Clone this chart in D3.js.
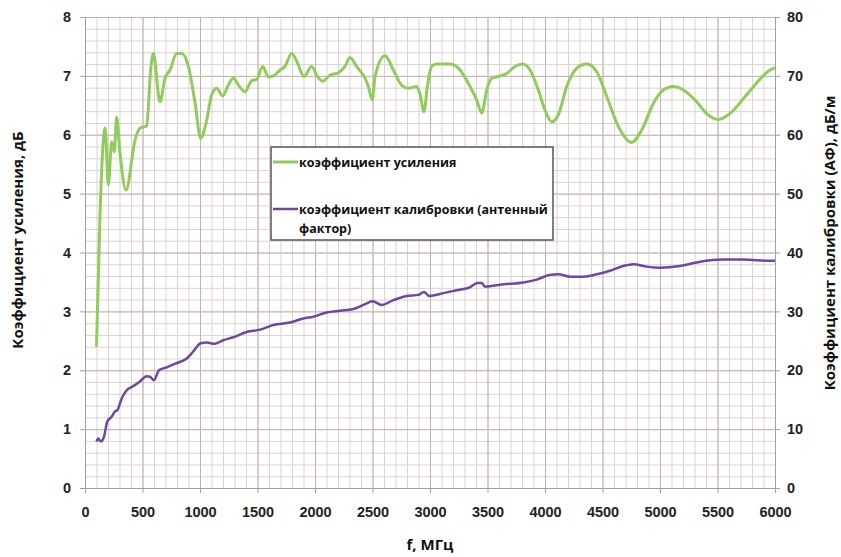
<!DOCTYPE html>
<html>
<head>
<meta charset="utf-8">
<script src="https://cdn.jsdelivr.net/npm/d3@7"></script>
<style>
  body { margin: 0; background: #fff; }
  svg { display: block; font-family: "Open Sans", sans-serif; }
  .tick text { font-size: 14.5px; font-weight: bold; fill: #222; }
</style>
</head>
<body>
<svg width="841" height="557"></svg>
<script>
(function(){

	// gain, dB (left axis)
	var gainFreq = [100, 130, 150, 175, 203, 232, 255, 275, 304, 357, 435, 478, 536, 571, 594, 652, 696, 739, 797, 841, 899, 957, 1006, 1052, 1102, 1145, 1197, 1247, 1290, 1342, 1391, 1450, 1493, 1545, 1594, 1638, 1696, 1739, 1797, 1841, 1904, 1971, 2020, 2067, 2130, 2203, 2261, 2304, 2362, 2435, 2464, 2499, 2522, 2609, 2681, 2754, 2812, 2884, 2913, 2948, 2977, 3015, 3058, 3174, 3261, 3348, 3406, 3450, 3493, 3537, 3594, 3667, 3739, 3806, 3870, 3942, 4000, 4058, 4116, 4189, 4276, 4363, 4450, 4537, 4638, 4754, 4841, 4942, 5029, 5116, 5203, 5319, 5406, 5507, 5609, 5754, 5957, 6000];
	var gain = [2.4, 4.6, 5.6, 6.12, 5.15, 5.88, 5.71, 6.3, 5.69, 5.06, 5.91, 6.11, 6.15, 7.1, 7.38, 6.56, 6.96, 7.1, 7.38, 7.38, 7.16, 6.54, 5.94, 6.19, 6.68, 6.79, 6.66, 6.85, 6.96, 6.82, 6.73, 6.92, 6.94, 7.16, 6.98, 7.0, 7.1, 7.16, 7.38, 7.25, 6.99, 7.16, 6.99, 6.91, 7.01, 7.05, 7.16, 7.31, 7.16, 6.96, 6.82, 6.59, 6.99, 7.34, 7.1, 6.84, 6.79, 6.82, 6.69, 6.39, 6.82, 7.16, 7.2, 7.2, 7.1, 6.82, 6.59, 6.37, 6.76, 6.96, 6.99, 7.04, 7.16, 7.2, 7.1, 6.76, 6.42, 6.22, 6.34, 6.82, 7.13, 7.2, 7.07, 6.65, 6.14, 5.87, 6.08, 6.53, 6.76, 6.82, 6.76, 6.56, 6.36, 6.26, 6.36, 6.68, 7.1, 7.14];

	// antenna factor, dB/m (right axis)
	var afFreq = [100, 116, 136, 165, 194, 232, 261, 281, 319, 362, 420, 478, 536, 565, 600, 643, 710, 797, 884, 942, 1006, 1058, 1130, 1203, 1290, 1406, 1522, 1638, 1783, 1899, 1986, 2102, 2218, 2333, 2420, 2502, 2580, 2681, 2797, 2899, 2948, 2994, 3116, 3232, 3348, 3412, 3450, 3478, 3638, 3812, 3928, 4043, 4116, 4218, 4334, 4450, 4565, 4681, 4768, 4884, 5000, 5174, 5319, 5435, 5551, 5725, 5957, 6000];
	var af = [7.9, 8.4, 7.9, 8.7, 11.3, 12.1, 13.0, 13.2, 15.2, 16.6, 17.3, 18.1, 19.0, 18.9, 18.3, 20.0, 20.5, 21.2, 22.0, 23.2, 24.6, 24.7, 24.5, 25.1, 25.6, 26.5, 26.9, 27.7, 28.1, 28.8, 29.1, 29.8, 30.1, 30.4, 31.1, 31.7, 31.1, 31.9, 32.6, 32.8, 33.3, 32.6, 33.1, 33.6, 34.1, 34.8, 34.8, 34.2, 34.6, 34.9, 35.4, 36.2, 36.3, 35.9, 35.9, 36.3, 36.9, 37.7, 38.0, 37.6, 37.4, 37.7, 38.3, 38.7, 38.8, 38.8, 38.6, 38.6];

	var xTicks = [0, 500, 1000, 1500, 2000, 2500, 3000, 3500, 4000, 4500, 5000, 5500, 6000];
	var leftTicks = [0, 1, 2, 3, 4, 5, 6, 7, 8];
	var rightTicks = [0, 10, 20, 30, 40, 50, 60, 70, 80];

	var seriesNames = ["коэффициент усиления", "коэффициент калибровки (антенный", "фактор)"];

	var svg = d3.select("svg"),
		margin = {top: 17, right: 66, bottom: 69, left: 85},
		width = +svg.attr("width") - margin.left - margin.right,
		height = +svg.attr("height") - margin.top - margin.bottom;

	var g = svg.append("g")
		.attr("transform", "translate(" + margin.left + "," + margin.top + ")");

	var x = d3.scaleLinear().domain([0, 6000]).range([0, width]),
		yL = d3.scaleLinear().domain([0, 8]).range([height, 0]),
		yR = d3.scaleLinear().domain([0, 80]).range([height, 0]);

	// minor grid
	g.append("g")
		.call(d3.axisBottom(x).tickValues(d3.range(0, 6001, 100)).tickSize(height).tickFormat(""))
		.call(function(s){ s.select(".domain").remove(); })
		.selectAll("line").attr("stroke", "#ddd1d1");
	g.append("g")
		.call(d3.axisLeft(yL).tickValues(d3.range(0, 41).map(function(d){ return d * 0.2; })).tickSize(-width).tickFormat(""))
		.call(function(s){ s.select(".domain").remove(); })
		.selectAll("line").attr("stroke", "#ddd1d1");

	// major grid
	g.append("g")
		.call(d3.axisBottom(x).tickValues(xTicks).tickSize(height).tickFormat(""))
		.call(function(s){ s.select(".domain").remove(); })
		.selectAll("line").attr("stroke", "#c6b0b0");
	g.append("g")
		.call(d3.axisLeft(yL).tickValues(leftTicks).tickSize(-width).tickFormat(""))
		.call(function(s){ s.select(".domain").remove(); })
		.selectAll("line").attr("stroke", "#c6b0b0");

	// axes
	var ax = g.append("g")
		.attr("transform", "translate(0," + height + ")")
		.call(d3.axisBottom(x).tickValues(xTicks).tickFormat(d3.format("d")).tickSize(5).tickPadding(14));
	var axL = g.append("g")
		.call(d3.axisLeft(yL).tickValues(leftTicks).tickSize(5).tickPadding(9));
	var axR = g.append("g")
		.attr("transform", "translate(" + width + ",0)")
		.call(d3.axisRight(yR).tickValues(rightTicks).tickSize(5).tickPadding(7));
	[ax, axL, axR].forEach(function(a){
		a.selectAll(".domain, line").attr("stroke", "#a0a0a0");
	});

	// lines
	var gainData = gainFreq.map(function(f, i){ return {f: f, v: gain[i]}; });
	var afData = afFreq.map(function(f, i){ return {f: f, v: af[i]}; });

	g.append("path")
		.datum(gainData)
		.attr("fill", "none")
		.attr("stroke", "#8fcc5c")
		.attr("stroke-width", 3)
		.attr("stroke-linejoin", "round")
		.attr("d", d3.line().curve(d3.curveMonotoneX)
			.x(function(d){ return x(d.f); })
			.y(function(d){ return yL(d.v); }));

	g.append("path")
		.datum(afData)
		.attr("fill", "none")
		.attr("stroke", "#6f479e")
		.attr("stroke-width", 2.5)
		.attr("stroke-linejoin", "round")
		.attr("d", d3.line().curve(d3.curveMonotoneX)
			.x(function(d){ return x(d.f); })
			.y(function(d){ return yR(d.v); }));

	// legend
	var lg = svg.append("g").attr("transform", "translate(271,147)");
	lg.append("rect")
		.attr("width", 282).attr("height", 93)
		.attr("fill", "#fff")
		.attr("stroke", "#555").attr("stroke-width", 1.5);
	lg.append("line").attr("x1", 2).attr("x2", 27).attr("y1", 15).attr("y2", 15)
		.attr("stroke", "#8fcc5c").attr("stroke-width", 3);
	lg.append("line").attr("x1", 2).attr("x2", 27).attr("y1", 62).attr("y2", 62)
		.attr("stroke", "#6f479e").attr("stroke-width", 2.5);
	lg.append("text").attr("x", 28).attr("y", 19.5).text(seriesNames[0])
		.style("font-size", "12.5px").style("font-weight", "bold").attr("fill", "#111");
	lg.append("text").attr("x", 28).attr("y", 66.5).text(seriesNames[1])
		.style("font-size", "12.5px").style("font-weight", "bold").attr("fill", "#111");
	lg.append("text").attr("x", 28).attr("y", 85.5).text(seriesNames[2])
		.style("font-size", "12.5px").style("font-weight", "bold").attr("fill", "#111");

	// axis titles
	svg.append("text")
		.attr("transform", "translate(23,240) rotate(-90)")
		.attr("text-anchor", "middle")
		.style("font-size", "15px").style("font-weight", "bold").attr("fill", "#111")
		.text("Коэффициент усиления, дБ");
	svg.append("text")
		.attr("transform", "translate(835,243) rotate(-90)")
		.attr("text-anchor", "middle")
		.style("font-size", "15px").style("font-weight", "bold").attr("fill", "#111")
		.text("Коэффициент калибровки (АФ), дБ/м");
	svg.append("text")
		.attr("x", 430).attr("y", 550)
		.attr("text-anchor", "middle")
		.style("font-size", "15px").style("font-weight", "bold").attr("fill", "#111")
		.text("f, МГц");

})();
</script>
</body>
</html>
